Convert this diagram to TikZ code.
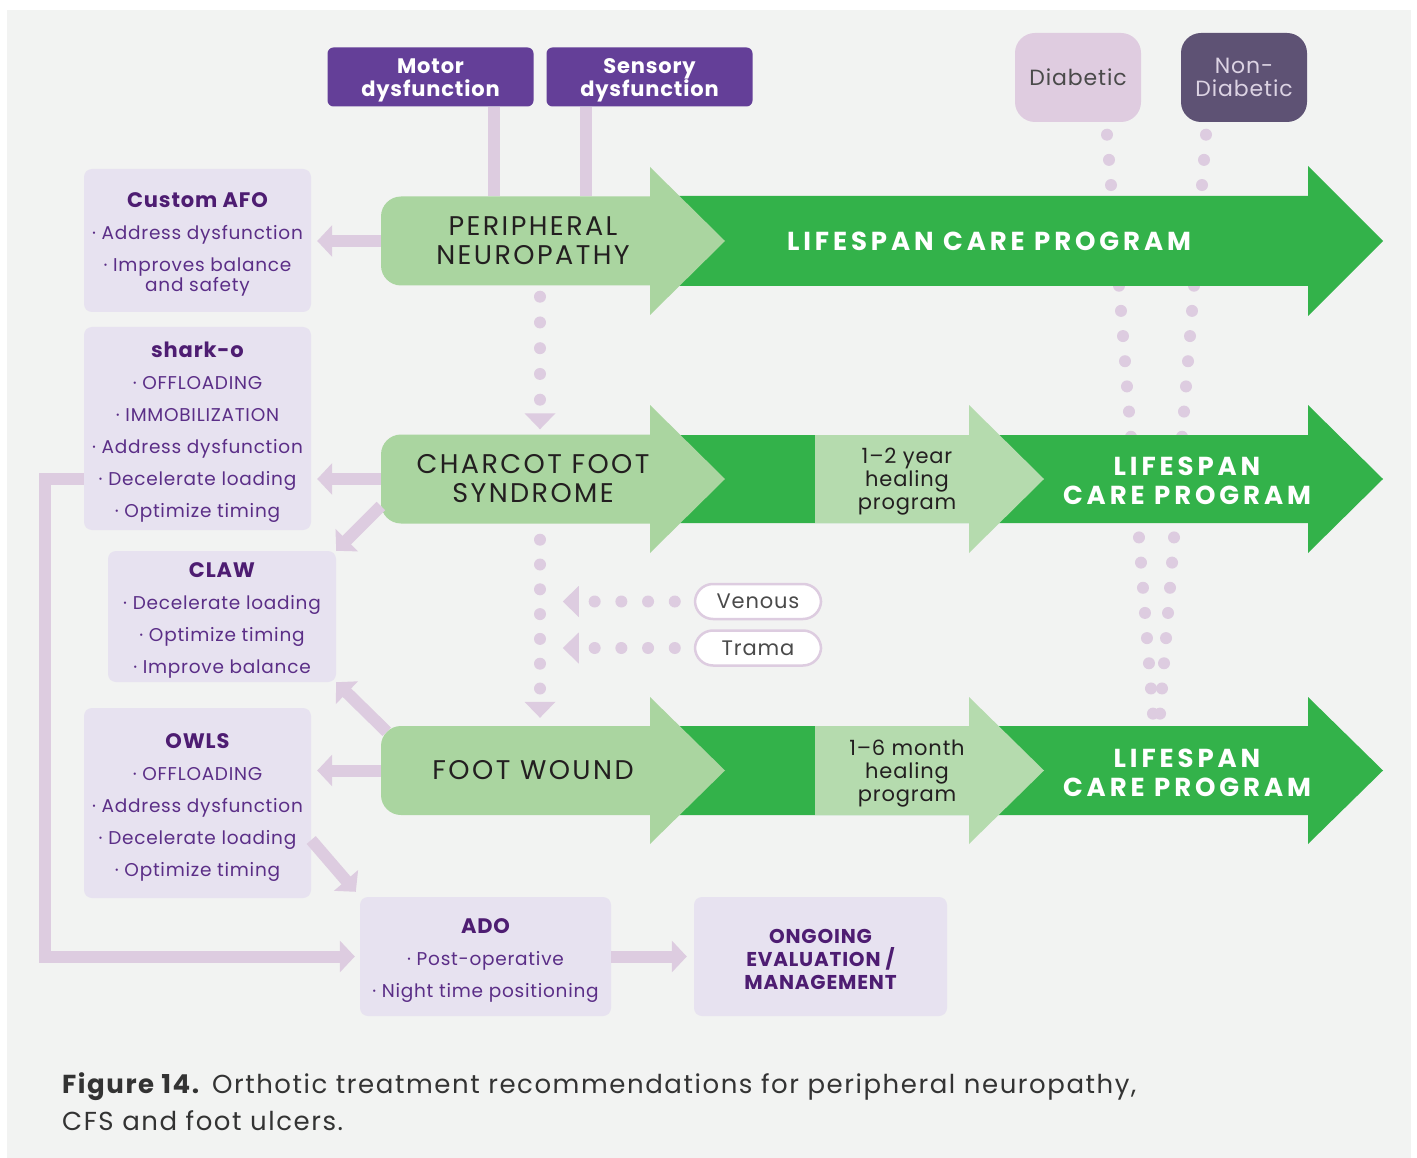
\documentclass[tikz,border=0pt]{standalone}
\usepackage{fontspec}
\setmainfont{Poppins}[LetterSpace=4]
\newfontfamily\stagefont{Poppins}[LetterSpace=9]
\newfontfamily\lifefont{Poppins}[LetterSpace=15]
\newfontfamily\captionfont{Poppins}[LetterSpace=6]
\usetikzlibrary{arrows.meta}

\definecolor{pagegrey}{HTML}{F2F3F2}
\definecolor{boxlilac}{HTML}{E7E2F0}
\definecolor{linklilac}{HTML}{DDCCE0}
\definecolor{titlepurple}{HTML}{4E1D72}
\definecolor{itempurple}{HTML}{5B2E87}
\definecolor{causepurple}{HTML}{643F98}
\definecolor{diabpink}{HTML}{DFCCE0}
\definecolor{diabtext}{HTML}{4A4A4A}
\definecolor{nondiabgrey}{HTML}{5E5274}
\definecolor{nondiabtext}{HTML}{DCD3E3}
\definecolor{palegreen}{HTML}{AAD5A0}
\definecolor{healgreen}{HTML}{B5DBAE}
\definecolor{lifegreen}{HTML}{33B24A}
\definecolor{inkgrey}{HTML}{231F20}
\definecolor{captiongrey}{HTML}{333333}

% box heading, with a strut so the lines sit lower in the box
\newcommand{\boxtitle}[1]{{\rule{0pt}{23pt}\fontsize{21}{32}\selectfont\bfseries\color{titlepurple}#1}}

\begin{document}
\begin{tikzpicture}[x=1pt, y=-1pt,
        cause_node/.style={rectangle, rounded corners=6pt, fill=causepurple, text=white, inner sep=0pt, minimum width=206pt, minimum height=59pt, align=center, font=\bfseries\fontsize{21}{23}\selectfont},
        group_node/.style={rectangle, rounded corners=20pt, inner sep=0pt, minimum width=126pt, minimum height=89pt, align=center, font=\fontsize{22}{23}\selectfont},
        ortho_node/.style={rectangle, rounded corners=8pt, fill=boxlilac, text=itempurple, inner sep=0pt, align=center, font=\fontsize{18.5}{32}\selectfont},
        stage_node/.style={rectangle, rounded corners=20pt, fill=palegreen, text=inkgrey, inner sep=0pt, minimum width=304pt, minimum height=89pt, align=center, font=\stagefont\fontsize{27}{29}\selectfont},
        heal_node/.style={text=inkgrey, align=center, inner sep=0pt, font=\fontsize{21}{23}\selectfont},
        life_node/.style={text=white, align=center, inner sep=0pt, font=\lifefont\bfseries\fontsize{26}{29}\selectfont},
        cause_pill/.style={rectangle, rounded corners=18pt, draw=linklilac, line width=2.5pt, fill=white, text=diabtext, inner sep=0pt, minimum width=126pt, minimum height=35pt, font=\fontsize{21}{23}\selectfont},
        link/.style={draw=linklilac, line width=12pt},
        link_arrow/.style={link, -{Triangle[length=15pt, width=31pt]}},
        dot_line/.style={draw=linklilac, line width=12pt, line cap=round, dash pattern=on 0pt off #1},
        dot_line/.default=25.25pt,
        dot_arrow/.style={dot_line=#1, -{Triangle[length=16pt, width=31pt, line width=0pt]}}
        ]
            \useasboundingbox (0,0) rectangle (1417,1158);
            \fill[white] (0,0) rectangle (1417,1158);
            \fill[pagegrey] (7,10) rectangle (1411,1158);

            % patient groups
            \node[group_node, fill=diabpink, text=diabtext]       (diabetic)    at (1078,77.5) {Diabetic};
            \node[group_node, fill=nondiabgrey, text=nondiabtext] (nondiabetic) at (1244,77.5) {Non-\\Diabetic};

            % group lines run behind the arrows
            \coordinate (diabetic_end)    at (1153,714);
            \coordinate (nondiabetic_end) at (1160,714);
            \draw[dot_line] ([xshift=29,yshift=-12.5]diabetic.south) -- (diabetic_end);
            \draw[dot_line] ([xshift=-38,yshift=-12.5]nondiabetic.south) -- (nondiabetic_end);

            % lifespan arrows
            \fill[lifegreen] (650,196) -- (1308,196) -- (1308,166) -- (1383,241) -- (1308,316) -- (1308,286) -- (650,286) -- cycle;
            \fill[lifegreen] (650,435) -- (1308,435) -- (1308,405) -- (1383,479) -- (1308,553) -- (1308,523) -- (650,523) -- cycle;
            \fill[lifegreen] (650,726) -- (1308,726) -- (1308,697) -- (1383,770.5) -- (1308,844) -- (1308,815) -- (650,815) -- cycle;
            % healing programs
            \fill[healgreen] (815,435) rectangle (975,523);
            \fill[healgreen] (969,405) -- (1044,479) -- (969,553) -- cycle;
            \fill[healgreen] (815,726) rectangle (975,815);
            \fill[healgreen] (969,697) -- (1044,770.5) -- (969,844) -- cycle;
            % stage heads
            \fill[palegreen] (650,167) -- (725,241) -- (650,315) -- cycle;
            \fill[palegreen] (650,405) -- (725,479) -- (650,553) -- cycle;
            \fill[palegreen] (650,697) -- (725,770.5) -- (650,844) -- cycle;

            % stages
            \node[stage_node] (pn)  at (533,241)   {PERIPHERAL\\NEUROPATHY};
            \node[stage_node] (cfs) at (533,479)   {CHARCOT FOOT\\SYNDROME};
            \node[stage_node] (fw)  at (533,770.5) {FOOT WOUND};

            \node[heal_node] (heal_cfs) at (907,482) {1–2 year\\healing\\program};
            \node[heal_node] (heal_fw)  at (907,774) {1–6 month\\healing\\program};
            \node[life_node] (life_pn)  at (989,241)  {LIFESPAN CARE PROGRAM};
            \node[life_node] (life_cfs) at (1187,481) {LIFESPAN\\CARE PROGRAM};
            \node[life_node] (life_fw)  at (1187,773) {LIFESPAN\\CARE PROGRAM};

            % causes
            \node[cause_node] (motor)   at (430.5,77) {\rule{0pt}{21pt}Motor\\dysfunction};
            \node[cause_node] (sensory) at (649.5,77) {\rule{0pt}{21pt}Sensory\\dysfunction};
            \node[cause_pill] (venous)  at (758,601.5) {Venous};
            \node[cause_pill] (trama)   at (758,648)   {Trama};

            % orthoses
            \node[ortho_node, minimum width=227pt, minimum height=143pt] (afo)    at (197.5,240.5)
                {\boxtitle{Custom AFO}\\· Address dysfunction\\· Improves balance\\[-12.5pt]and safety};
            \node[ortho_node, minimum width=227pt, minimum height=203pt] (sharko) at (197.5,428.5)
                {\boxtitle{shark-o}\\· OFFLOADING\\· IMMOBILIZATION\\· Address dysfunction\\· Decelerate loading\\· Optimize timing};
            \node[ortho_node, minimum width=228pt, minimum height=131pt] (claw)   at (222,616.5)
                {\boxtitle{CLAW}\\· Decelerate loading\\· Optimize timing\\· Improve balance};
            \node[ortho_node, minimum width=227pt, minimum height=190pt] (owls)   at (197.5,803)
                {\boxtitle{OWLS}\\· OFFLOADING\\· Address dysfunction\\· Decelerate loading\\· Optimize timing};
            \node[ortho_node, minimum width=251pt, minimum height=119pt] (ado)    at (485.5,956.5)
                {\boxtitle{ADO}\\· Post-operative\\· Night time positioning};
            \node[ortho_node, minimum width=253pt, minimum height=119pt, text=titlepurple, font=\bfseries\fontsize{20}{23}\selectfont] (ongoing) at (820.5,956.5)
                {\rule{0pt}{20pt}ONGOING\\EVALUATION /\\MANAGEMENT};

            % Lines
            \coordinate (motor_link)   at ([xshift=63.5]motor.south);
            \coordinate (sensory_link) at ([xshift=-63.5]sensory.south);
            \draw[link] (motor_link) -- (motor_link |- pn.north);
            \draw[link] (sensory_link) -- (sensory_link |- pn.north);
            \draw[link_arrow, shorten >=6pt] (pn.west) -- (pn.west -| afo.east);
            \draw[link_arrow, shorten >=6pt] (cfs.west) -- (cfs.west -| sharko.east);
            \draw[link_arrow] ([yshift=-27]cfs.west) -- (claw.north east);
            \draw[link_arrow] ([xshift=6,yshift=-6]fw.north west) -- (claw.south east);
            \draw[link_arrow, shorten >=6pt] (fw.west) -- (fw.west -| owls.east);
            \draw[link_arrow] ([yshift=-37]owls.east) -- ([xshift=-4,yshift=5]ado.north west);
            \draw[link_arrow, shorten >=5pt] (sharko.west |- cfs.west) -- ++(-39,0) |- (ado.west);
            \draw[link_arrow, shorten >=7pt] (ado.east) -- (ongoing.west);
            % dotted progression
            \draw[dot_arrow=25.75pt] ([xshift=7,yshift=-11]pn.south) -- ([xshift=7,yshift=5]cfs.north);
            \draw[dot_arrow=24.8pt]  ([xshift=7,yshift=-16]cfs.south) -- ([xshift=7,yshift=8]fw.north);
            \draw[dot_arrow=26.7pt]  ([xshift=-19]venous.west) -- ([xshift=-131]venous.west);
            \draw[dot_arrow=26.7pt]  ([xshift=-19]trama.west) -- ([xshift=-131]trama.west);

            % caption
            \node[anchor=west, align=left, inner sep=0pt, text=captiongrey, font=\captionfont\fontsize{26}{37}\selectfont] (caption) at (62,1102)
                {\textbf{Figure 14.} Orthotic treatment recommendations for peripheral neuropathy,\\CFS and foot ulcers.};
        \end{tikzpicture}
\end{document}
